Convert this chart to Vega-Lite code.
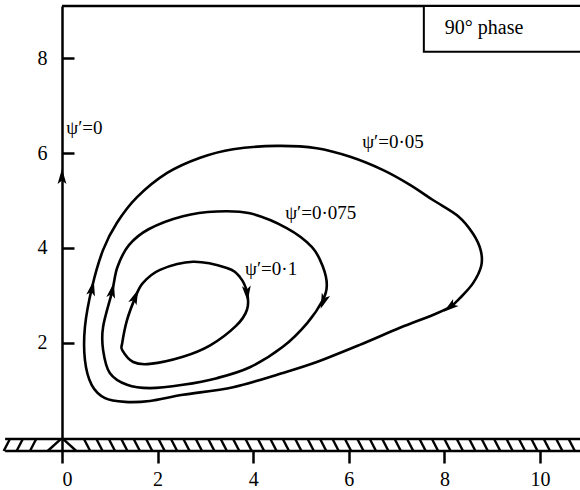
{
  "$schema": "https://vega.github.io/schema/vega-lite/v6.json",
  "width": 518,
  "height": 445,
  "autosize": "none",
  "padding": {"left": 62, "top": 6, "right": 0, "bottom": 39},
  "background": "white",
  "config": {"view": {"stroke": null}, "font": "Liberation Serif"},
  "datasets": {
    "curves": [
      {"curve": "0.05", "i": 1, "x": 0.48, "y": 1.64},
      {"curve": "0.05", "i": 2, "x": 0.48, "y": 2.34},
      {"curve": "0.05", "i": 3, "x": 0.63, "y": 3.18},
      {"curve": "0.05", "i": 4, "x": 0.86, "y": 3.96},
      {"curve": "0.05", "i": 5, "x": 1.15, "y": 4.53},
      {"curve": "0.05", "i": 6, "x": 1.57, "y": 5.07},
      {"curve": "0.05", "i": 7, "x": 2.2, "y": 5.58},
      {"curve": "0.05", "i": 8, "x": 2.89, "y": 5.9},
      {"curve": "0.05", "i": 9, "x": 3.58, "y": 6.08},
      {"curve": "0.05", "i": 10, "x": 4.5, "y": 6.15},
      {"curve": "0.05", "i": 11, "x": 5.33, "y": 6.1},
      {"curve": "0.05", "i": 12, "x": 6.03, "y": 5.92},
      {"curve": "0.05", "i": 13, "x": 6.72, "y": 5.64},
      {"curve": "0.05", "i": 14, "x": 7.28, "y": 5.33},
      {"curve": "0.05", "i": 15, "x": 7.76, "y": 5.01},
      {"curve": "0.05", "i": 16, "x": 8.3, "y": 4.66},
      {"curve": "0.05", "i": 17, "x": 8.6, "y": 4.3},
      {"curve": "0.05", "i": 18, "x": 8.76, "y": 3.95},
      {"curve": "0.05", "i": 19, "x": 8.77, "y": 3.62},
      {"curve": "0.05", "i": 20, "x": 8.6, "y": 3.26},
      {"curve": "0.05", "i": 21, "x": 8.33, "y": 2.95},
      {"curve": "0.05", "i": 22, "x": 8.12, "y": 2.76},
      {"curve": "0.05", "i": 23, "x": 7.76, "y": 2.59},
      {"curve": "0.05", "i": 24, "x": 7.07, "y": 2.32},
      {"curve": "0.05", "i": 25, "x": 6.23, "y": 1.96},
      {"curve": "0.05", "i": 26, "x": 5.33, "y": 1.6},
      {"curve": "0.05", "i": 27, "x": 4.62, "y": 1.37},
      {"curve": "0.05", "i": 28, "x": 3.58, "y": 1.07},
      {"curve": "0.05", "i": 29, "x": 2.53, "y": 0.91},
      {"curve": "0.05", "i": 30, "x": 1.84, "y": 0.78},
      {"curve": "0.05", "i": 31, "x": 1.32, "y": 0.76},
      {"curve": "0.05", "i": 32, "x": 0.9, "y": 0.84},
      {"curve": "0.05", "i": 33, "x": 0.62, "y": 1.12},
      {"curve": "0.075", "i": 1, "x": 0.86, "y": 1.85},
      {"curve": "0.075", "i": 2, "x": 0.86, "y": 2.34},
      {"curve": "0.075", "i": 3, "x": 1.05, "y": 3.09},
      {"curve": "0.075", "i": 4, "x": 1.16, "y": 3.6},
      {"curve": "0.075", "i": 5, "x": 1.4, "y": 4.06},
      {"curve": "0.075", "i": 6, "x": 1.82, "y": 4.4},
      {"curve": "0.075", "i": 7, "x": 2.53, "y": 4.67},
      {"curve": "0.075", "i": 8, "x": 3.24, "y": 4.77},
      {"curve": "0.075", "i": 9, "x": 3.93, "y": 4.73},
      {"curve": "0.075", "i": 10, "x": 4.7, "y": 4.42},
      {"curve": "0.075", "i": 11, "x": 5.23, "y": 4.02},
      {"curve": "0.075", "i": 12, "x": 5.46, "y": 3.6},
      {"curve": "0.075", "i": 13, "x": 5.54, "y": 3.22},
      {"curve": "0.075", "i": 14, "x": 5.46, "y": 2.91},
      {"curve": "0.075", "i": 15, "x": 5.13, "y": 2.42},
      {"curve": "0.075", "i": 16, "x": 4.62, "y": 1.92},
      {"curve": "0.075", "i": 17, "x": 3.93, "y": 1.49},
      {"curve": "0.075", "i": 18, "x": 3.24, "y": 1.26},
      {"curve": "0.075", "i": 19, "x": 2.53, "y": 1.12},
      {"curve": "0.075", "i": 20, "x": 1.84, "y": 1.05},
      {"curve": "0.075", "i": 21, "x": 1.36, "y": 1.12},
      {"curve": "0.075", "i": 22, "x": 1.0, "y": 1.37},
      {"curve": "0.1", "i": 1, "x": 1.26, "y": 2.0},
      {"curve": "0.1", "i": 2, "x": 1.36, "y": 2.48},
      {"curve": "0.1", "i": 3, "x": 1.53, "y": 2.95},
      {"curve": "0.1", "i": 4, "x": 1.69, "y": 3.26},
      {"curve": "0.1", "i": 5, "x": 2.05, "y": 3.54},
      {"curve": "0.1", "i": 6, "x": 2.74, "y": 3.71},
      {"curve": "0.1", "i": 7, "x": 3.45, "y": 3.58},
      {"curve": "0.1", "i": 8, "x": 3.72, "y": 3.39},
      {"curve": "0.1", "i": 9, "x": 3.87, "y": 3.07},
      {"curve": "0.1", "i": 10, "x": 3.87, "y": 2.7},
      {"curve": "0.1", "i": 11, "x": 3.64, "y": 2.36},
      {"curve": "0.1", "i": 12, "x": 3.1, "y": 1.95},
      {"curve": "0.1", "i": 13, "x": 2.53, "y": 1.71},
      {"curve": "0.1", "i": 14, "x": 1.84, "y": 1.56},
      {"curve": "0.1", "i": 15, "x": 1.49, "y": 1.6},
      {"curve": "0.1", "i": 16, "x": 1.26, "y": 1.85}
    ],
    "arrows": [
      {"curve": "0", "x": 0.0, "y": 5.5, "dir": 0},
      {"curve": "0.05", "x": 0.63, "y": 3.15, "dir": 12},
      {"curve": "0.05", "x": 8.12, "y": 2.76, "dir": 232},
      {"curve": "0.075", "x": 1.05, "y": 3.1, "dir": 12},
      {"curve": "0.075", "x": 5.47, "y": 2.88, "dir": 200},
      {"curve": "0.1", "x": 1.53, "y": 2.97, "dir": 22},
      {"curve": "0.1", "x": 3.87, "y": 3.05, "dir": 175}
    ],
    "labels": [
      {"text": "ψ′=0", "x": 0.09, "y": 6.53},
      {"text": "ψ′=0·05", "x": 6.28, "y": 6.23},
      {"text": "ψ′=0·075", "x": 4.67, "y": 4.74},
      {"text": "ψ′=0·1", "x": 3.83, "y": 3.56}
    ],
    "lines": [
      {"x": -1.19, "x2": 10.9, "y": -0.02},
      {"x": -1.19, "x2": 10.9, "y": -0.274},
      {"x": 0, "x2": 11, "y": 9.095}
    ],
    "box": [
      {"x": 7.57, "x2": 11, "y": 8.13, "y2": 9.095}
    ],
    "boxtext": [
      {"x": 8.83, "y": 8.63, "text": "90° phase"}
    ],
    "hatches": [
      {"x": -1.09, "xb": -1.22}, {"x": -0.82, "xb": -0.95}, {"x": -0.54, "xb": -0.67}, {"x": -0.02, "xb": -0.3},
      {"x": 0.02, "xb": 0.3}, {"x": 0.46, "xb": 0.59}, {"x": 0.72, "xb": 0.85}, {"x": 0.98, "xb": 1.11},
      {"x": 1.24, "xb": 1.37}, {"x": 1.5, "xb": 1.63}, {"x": 1.76, "xb": 1.89}, {"x": 2.02, "xb": 2.15},
      {"x": 2.28, "xb": 2.41}, {"x": 2.54, "xb": 2.67}, {"x": 2.8, "xb": 2.93}, {"x": 3.06, "xb": 3.19},
      {"x": 3.32, "xb": 3.45}, {"x": 3.58, "xb": 3.71}, {"x": 3.84, "xb": 3.97}, {"x": 4.1, "xb": 4.23},
      {"x": 4.36, "xb": 4.49}, {"x": 4.62, "xb": 4.75}, {"x": 4.88, "xb": 5.01}, {"x": 5.14, "xb": 5.27},
      {"x": 5.4, "xb": 5.53}, {"x": 5.66, "xb": 5.79}, {"x": 5.92, "xb": 6.05}, {"x": 6.18, "xb": 6.31},
      {"x": 6.44, "xb": 6.57}, {"x": 6.7, "xb": 6.83}, {"x": 6.96, "xb": 7.09}, {"x": 7.22, "xb": 7.35},
      {"x": 7.48, "xb": 7.61}, {"x": 7.74, "xb": 7.87}, {"x": 8.0, "xb": 8.13}, {"x": 8.26, "xb": 8.39},
      {"x": 8.52, "xb": 8.65}, {"x": 8.78, "xb": 8.91}, {"x": 9.04, "xb": 9.17}, {"x": 9.3, "xb": 9.43},
      {"x": 9.56, "xb": 9.69}, {"x": 9.82, "xb": 9.95}, {"x": 10.08, "xb": 10.21}, {"x": 10.34, "xb": 10.47},
      {"x": 10.6, "xb": 10.73}
    ]
  },
  "layer": [
    {
      "data": {"name": "curves"},
      "mark": {"type": "line", "color": "black", "strokeWidth": 2.6, "interpolate": "cardinal-closed"},
      "encoding": {
        "x": {
          "field": "x", "type": "quantitative",
          "scale": {"domain": [0, 10.837], "nice": false, "zero": false},
          "axis": {
            "values": [0, 2, 4, 6, 8, 10], "title": null, "grid": false, "domain": false,
            "tickSize": 12, "tickWidth": 2.5, "tickColor": "black",
            "labelFont": "Liberation Serif", "labelFontSize": 20, "labelColor": "black", "labelPadding": 6
          }
        },
        "y": {
          "field": "y", "type": "quantitative",
          "scale": {"domain": [-0.274, 9.095], "nice": false, "zero": false},
          "axis": {
            "values": [2, 4, 6, 8], "title": null, "grid": false,
            "domainColor": "black", "domainWidth": 2.5,
            "tickSize": -12, "tickWidth": 2.5, "tickColor": "black",
            "labelFont": "Liberation Serif", "labelFontSize": 20, "labelColor": "black", "labelPadding": 27
          }
        },
        "detail": {"field": "curve"},
        "order": {"field": "i", "type": "quantitative"}
      }
    },
    {
      "data": {"name": "hatches"},
      "mark": {"type": "rule", "color": "black", "strokeWidth": 2.4},
      "encoding": {
        "x": {"field": "x", "type": "quantitative"},
        "x2": {"field": "xb"},
        "y": {"datum": -0.02, "type": "quantitative"},
        "y2": {"datum": -0.274}
      }
    },
    {
      "data": {"name": "lines"},
      "mark": {"type": "rule", "color": "black", "strokeWidth": 2.5},
      "encoding": {
        "x": {"field": "x", "type": "quantitative"},
        "x2": {"field": "x2"},
        "y": {"field": "y", "type": "quantitative"}
      }
    },
    {
      "data": {"name": "arrows"},
      "mark": {"type": "point", "shape": "M0,-1L0.55,0.9L0,0.45L-0.55,0.9Z", "filled": true, "color": "black", "opacity": 1, "size": 260},
      "encoding": {
        "x": {"field": "x", "type": "quantitative"},
        "y": {"field": "y", "type": "quantitative"},
        "angle": {"field": "dir", "type": "quantitative", "scale": null}
      }
    },
    {
      "data": {"name": "labels"},
      "mark": {"type": "text", "align": "left", "baseline": "middle", "font": "Liberation Serif", "fontSize": 19, "color": "black"},
      "encoding": {
        "x": {"field": "x", "type": "quantitative"},
        "y": {"field": "y", "type": "quantitative"},
        "text": {"field": "text"}
      }
    },
    {
      "data": {"name": "box"},
      "mark": {"type": "rect", "fill": "white", "stroke": "black", "strokeWidth": 2},
      "encoding": {
        "x": {"field": "x", "type": "quantitative"},
        "x2": {"field": "x2"},
        "y": {"field": "y", "type": "quantitative"},
        "y2": {"field": "y2"}
      }
    },
    {
      "data": {"name": "boxtext"},
      "mark": {"type": "text", "align": "center", "baseline": "middle", "font": "Liberation Serif", "fontSize": 20, "color": "black"},
      "encoding": {
        "x": {"field": "x", "type": "quantitative"},
        "y": {"field": "y", "type": "quantitative"},
        "text": {"field": "text"}
      }
    }
  ]
}
